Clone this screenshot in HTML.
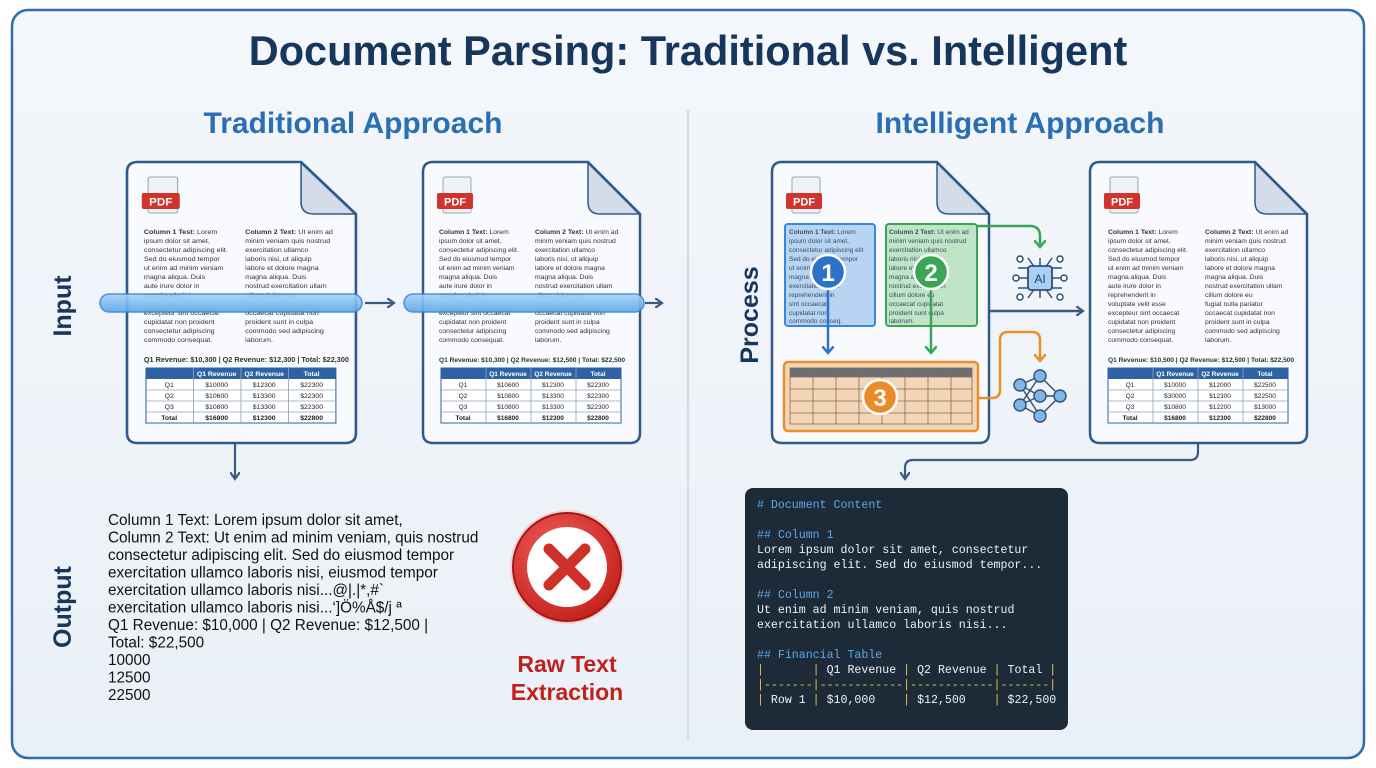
<!DOCTYPE html>
<html><head><meta charset="utf-8"><style>
html,body{margin:0;padding:0;background:#fff}
svg{display:block}
.t{font-family:"Liberation Sans",sans-serif}
.m{font-family:"Liberation Mono","DejaVu Sans Mono",monospace}
</style></head><body>
<svg width="1376" height="768" viewBox="0 0 1376 768" xmlns="http://www.w3.org/2000/svg">
<defs>
<linearGradient id="bg" x1="0" y1="0" x2="0" y2="1"><stop offset="0" stop-color="#f4f7fb"/><stop offset="1" stop-color="#eaf0f7"/></linearGradient>
<linearGradient id="bar" x1="0" y1="0" x2="0" y2="1"><stop offset="0" stop-color="#a9d3f7"/><stop offset="1" stop-color="#5aa6e8"/></linearGradient>
<radialGradient id="red" cx="0.4" cy="0.35" r="0.7"><stop offset="0" stop-color="#f0605a"/><stop offset="1" stop-color="#c4201c"/></radialGradient>
<marker id="ab" markerWidth="10" markerHeight="10" refX="6" refY="5" orient="auto" markerUnits="userSpaceOnUse"><path d="M0,0 L7,5 L0,10" fill="none" stroke="#3a5a80" stroke-width="2.2"/></marker>
<marker id="ablue" markerWidth="12" markerHeight="12" refX="6" refY="6" orient="auto" markerUnits="userSpaceOnUse"><path d="M0,0 L7,6 L0,12" fill="none" stroke="#2f72c8" stroke-width="2.5"/></marker>
<marker id="agreen" markerWidth="12" markerHeight="12" refX="6" refY="6" orient="auto" markerUnits="userSpaceOnUse"><path d="M0,0 L7,6 L0,12" fill="none" stroke="#3aa655" stroke-width="2.5"/></marker>
<marker id="aor" markerWidth="12" markerHeight="12" refX="6" refY="6" orient="auto" markerUnits="userSpaceOnUse"><path d="M0,0 L7,6 L0,12" fill="none" stroke="#e8902c" stroke-width="2.5"/></marker>
</defs>
<rect width="1376" height="768" fill="#fff"/>
<rect x="12" y="10" width="1352" height="748" rx="16" fill="url(#bg)" stroke="#2d6cb5" stroke-width="2.5"/>

<text class="t" x="688" y="65" text-anchor="middle" font-size="41.5" font-weight="bold" fill="#17365c">Document Parsing: Traditional vs. Intelligent</text>
<text class="t" x="353" y="133" text-anchor="middle" font-size="30" font-weight="bold" fill="#2a6fb3">Traditional Approach</text>
<text class="t" x="1020" y="133" text-anchor="middle" font-size="30" font-weight="bold" fill="#2a6fb3">Intelligent Approach</text>
<line x1="688" y1="110" x2="688" y2="740" stroke="#c9d4e0" stroke-width="1.5"/>

<text class="t" transform="translate(71,306) rotate(-90)" text-anchor="middle" font-size="25" font-weight="bold" fill="#17365c">Input</text>
<text class="t" transform="translate(71,607) rotate(-90)" text-anchor="middle" font-size="25" font-weight="bold" fill="#17365c">Output</text>
<text class="t" transform="translate(758,315) rotate(-90)" text-anchor="middle" font-size="25" font-weight="bold" fill="#17365c">Process</text>

<g transform="translate(127,162) scale(1.055,1)">
<path d="M10,0 H165 L217,52 V271 Q217,281 207,281 H10 Q0,281 0,271 V10 Q0,0 10,0 Z" fill="#f8fafd" stroke="#2f5a8a" stroke-width="2.5"/>
<path d="M165,1 V40 Q165,52 177,52 H216 Z" fill="#d3dce8" stroke="#2f5a8a" stroke-width="1.5"/>
<rect x="20" y="15" width="28" height="36" rx="2" fill="#eef1f5" stroke="#9aa6b5"/>
<rect x="14" y="31" width="36" height="16" rx="2" fill="#d0342c"/>
<text class="t" x="32" y="43.5" text-anchor="middle" font-size="11" font-weight="bold" fill="#fff">PDF</text>
<g class="t" font-size="6.8" fill="#333">
<text x="16" y="72"><tspan font-weight="bold">Column 1 Test:</tspan> Lorem</text><text x="16" y="81">ipsum dolor sit amet,</text><text x="16" y="90">consectetur adipiscing elit.</text><text x="16" y="99">Sed do eiusmod tempor</text><text x="16" y="108">ut enim ad minim veniam</text><text x="16" y="117">magna aliqua. Duis</text><text x="16" y="126">aute irure dolor in</text><text x="16" y="135">reprehenderit in</text><text x="16" y="153">excepteur sint occaecat</text><text x="16" y="162">cupidatat non proident</text><text x="16" y="171">consectetur adipiscing</text><text x="16" y="180">commodo consequat.</text>
<text x="112" y="72"><tspan font-weight="bold">Column 2 Text:</tspan> Ut enim ad</text><text x="112" y="81">minim veniam quis nostrud</text><text x="112" y="90">exercitation ullamco</text><text x="112" y="99">laboris nisi, ut aliquip</text><text x="112" y="108">labore et dolore magna</text><text x="112" y="117">magna aliqua. Duis</text><text x="112" y="126">nostrud exercitation ullam</text><text x="112" y="135">cillum dolore eu</text><text x="112" y="153">occaecat cupidatat non</text><text x="112" y="162">proident sunt in culpa</text><text x="112" y="171">commodo sed adipiscing</text><text x="112" y="180">laborum.</text>
<text x="16" y="200" font-weight="bold" font-size="6.9">Q1 Revenue: $10,300 | Q2 Revenue: $12,300 | Total: $22,300</text>
</g>
<rect x="18" y="206" width="180" height="55" fill="#fff" stroke="#2d63a5"/>
<rect x="18" y="206" width="180" height="11" fill="#2d63a5"/>
<g stroke="#8aa2c2" stroke-width="0.8"><line x1="18" y1="228" x2="198" y2="228"/><line x1="18" y1="239" x2="198" y2="239"/><line x1="18" y1="250" x2="198" y2="250"/><line x1="63" y1="206" x2="63" y2="261"/><line x1="108" y1="206" x2="108" y2="261"/><line x1="153" y1="206" x2="153" y2="261"/></g>
<g class="t" font-size="6.5" fill="#222" text-anchor="middle">
<text x="85" y="214" fill="#fff" font-weight="bold">Q1 Revenue</text><text x="130" y="214" fill="#fff" font-weight="bold">Q2 Revenue</text><text x="175" y="214" fill="#fff" font-weight="bold">Total</text>
<text x="40" y="225">Q1</text><text x="85" y="225">$10000</text><text x="130" y="225">$12300</text><text x="175" y="225">$22300</text>
<text x="40" y="236">Q2</text><text x="85" y="236">$10600</text><text x="130" y="236">$13300</text><text x="175" y="236">$22300</text>
<text x="40" y="247">Q3</text><text x="85" y="247">$10800</text><text x="130" y="247">$13300</text><text x="175" y="247">$22300</text>
<text x="40" y="258" font-weight="bold">Total</text><text x="85" y="258" font-weight="bold">$16800</text><text x="130" y="258" font-weight="bold">$12300</text><text x="175" y="258" font-weight="bold">$22800</text>
</g>
</g>

<g transform="translate(423,162)">
<path d="M10,0 H165 L217,52 V271 Q217,281 207,281 H10 Q0,281 0,271 V10 Q0,0 10,0 Z" fill="#f8fafd" stroke="#2f5a8a" stroke-width="2.5"/>
<path d="M165,1 V40 Q165,52 177,52 H216 Z" fill="#d3dce8" stroke="#2f5a8a" stroke-width="1.5"/>
<rect x="20" y="15" width="28" height="36" rx="2" fill="#eef1f5" stroke="#9aa6b5"/>
<rect x="14" y="31" width="36" height="16" rx="2" fill="#d0342c"/>
<text class="t" x="32" y="43.5" text-anchor="middle" font-size="11" font-weight="bold" fill="#fff">PDF</text>
<g class="t" font-size="6.8" fill="#333">
<text x="16" y="72"><tspan font-weight="bold">Column 1 Text:</tspan> Lorem</text><text x="16" y="81">ipsum dolor sit amet,</text><text x="16" y="90">consectetur adipiscing elit.</text><text x="16" y="99">Sed do eiusmod tempor</text><text x="16" y="108">ut enim ad minim veniam</text><text x="16" y="117">magna aliqua. Duis</text><text x="16" y="126">aute irure dolor in</text><text x="16" y="135">reprehenderit in</text><text x="16" y="153">excepteur sint occaecat</text><text x="16" y="162">cupidatat non proident</text><text x="16" y="171">consectetur adipiscing</text><text x="16" y="180">commodo consequat.</text>
<text x="112" y="72"><tspan font-weight="bold">Column 2 Text:</tspan> Ut enim ad</text><text x="112" y="81">minim veniam quis nostrud</text><text x="112" y="90">exercitation ullamco</text><text x="112" y="99">laboris nisi, ut aliquip</text><text x="112" y="108">labore et dolore magna</text><text x="112" y="117">magna aliqua. Duis</text><text x="112" y="126">nostrud exercitation ullam</text><text x="112" y="135">cillum dolore eu</text><text x="112" y="153">occaecat cupidatat non</text><text x="112" y="162">proident sunt in culpa</text><text x="112" y="171">commodo sed adipiscing</text><text x="112" y="180">laborum.</text>
<text x="16" y="200" font-weight="bold" font-size="6.6">Q1 Revenue: $10,300 | Q2 Revenue: $12,500 | Total: $22,500</text>
</g>
<rect x="18" y="206" width="180" height="55" fill="#fff" stroke="#2d63a5"/>
<rect x="18" y="206" width="180" height="11" fill="#2d63a5"/>
<g stroke="#8aa2c2" stroke-width="0.8"><line x1="18" y1="228" x2="198" y2="228"/><line x1="18" y1="239" x2="198" y2="239"/><line x1="18" y1="250" x2="198" y2="250"/><line x1="63" y1="206" x2="63" y2="261"/><line x1="108" y1="206" x2="108" y2="261"/><line x1="153" y1="206" x2="153" y2="261"/></g>
<g class="t" font-size="6.5" fill="#222" text-anchor="middle">
<text x="85" y="214" fill="#fff" font-weight="bold">Q1 Revenue</text><text x="130" y="214" fill="#fff" font-weight="bold">Q2 Revenue</text><text x="175" y="214" fill="#fff" font-weight="bold">Total</text>
<text x="40" y="225">Q1</text><text x="85" y="225">$10600</text><text x="130" y="225">$12300</text><text x="175" y="225">$22300</text>
<text x="40" y="236">Q2</text><text x="85" y="236">$10800</text><text x="130" y="236">$13300</text><text x="175" y="236">$22300</text>
<text x="40" y="247">Q3</text><text x="85" y="247">$10800</text><text x="130" y="247">$13300</text><text x="175" y="247">$22300</text>
<text x="40" y="258" font-weight="bold">Total</text><text x="85" y="258" font-weight="bold">$16800</text><text x="130" y="258" font-weight="bold">$12300</text><text x="175" y="258" font-weight="bold">$22800</text>
</g>
</g>

<g transform="translate(1090,162)">
<path d="M10,0 H165 L217,52 V271 Q217,281 207,281 H10 Q0,281 0,271 V10 Q0,0 10,0 Z" fill="#f8fafd" stroke="#2f5a8a" stroke-width="2.5"/>
<path d="M165,1 V40 Q165,52 177,52 H216 Z" fill="#d3dce8" stroke="#2f5a8a" stroke-width="1.5"/>
<rect x="20" y="15" width="28" height="36" rx="2" fill="#eef1f5" stroke="#9aa6b5"/>
<rect x="14" y="31" width="36" height="16" rx="2" fill="#d0342c"/>
<text class="t" x="32" y="43.5" text-anchor="middle" font-size="11" font-weight="bold" fill="#fff">PDF</text>
<g class="t" font-size="6.8" fill="#333">
<text x="18" y="72"><tspan font-weight="bold">Column 1 Text:</tspan> Lorem</text><text x="18" y="81">ipsum dolor sit amet,</text><text x="18" y="90">consectetur adipiscing elit.</text><text x="18" y="99">Sed do eiusmod tempor</text><text x="18" y="108">ut enim ad minim veniam</text><text x="18" y="117">magna aliqua. Duis</text><text x="18" y="126">aute irure dolor in</text><text x="18" y="135">reprehenderit in</text><text x="18" y="144">voluptate velit esse</text><text x="18" y="153">excepteur sint occaecat</text><text x="18" y="162">cupidatat non proident</text><text x="18" y="171">consectetur adipiscing</text><text x="18" y="180">commodo consequat.</text>
<text x="115" y="72"><tspan font-weight="bold">Column 2 Text:</tspan> Ut enim ad</text><text x="115" y="81">minim veniam quis nostrud</text><text x="115" y="90">exercitation ullamco</text><text x="115" y="99">laboris nisi, ut aliquip</text><text x="115" y="108">labore et dolore magna</text><text x="115" y="117">magna aliqua. Duis</text><text x="115" y="126">nostrud exercitation ullam</text><text x="115" y="135">cillum dolore eu</text><text x="115" y="144">fugiat nulla pariatur</text><text x="115" y="153">occaecat cupidatat non</text><text x="115" y="162">proident sunt in culpa</text><text x="115" y="171">commodo sed adipiscing</text><text x="115" y="180">laborum.</text>
<text x="18" y="200" font-weight="bold" font-size="6.6">Q1 Revenue: $10,500 | Q2 Revenue: $12,500 | Total: $22,500</text>
</g>
<rect x="18" y="206" width="180" height="55" fill="#fff" stroke="#2d63a5"/>
<rect x="18" y="206" width="180" height="11" fill="#2d63a5"/>
<g stroke="#8aa2c2" stroke-width="0.8"><line x1="18" y1="228" x2="198" y2="228"/><line x1="18" y1="239" x2="198" y2="239"/><line x1="18" y1="250" x2="198" y2="250"/><line x1="63" y1="206" x2="63" y2="261"/><line x1="108" y1="206" x2="108" y2="261"/><line x1="153" y1="206" x2="153" y2="261"/></g>
<g class="t" font-size="6.5" fill="#222" text-anchor="middle">
<text x="85" y="214" fill="#fff" font-weight="bold">Q1 Revenue</text><text x="130" y="214" fill="#fff" font-weight="bold">Q2 Revenue</text><text x="175" y="214" fill="#fff" font-weight="bold">Total</text>
<text x="40" y="225">Q1</text><text x="85" y="225">$10000</text><text x="130" y="225">$12000</text><text x="175" y="225">$22500</text>
<text x="40" y="236">Q2</text><text x="85" y="236">$30000</text><text x="130" y="236">$12300</text><text x="175" y="236">$22500</text>
<text x="40" y="247">Q3</text><text x="85" y="247">$10800</text><text x="130" y="247">$12200</text><text x="175" y="247">$13000</text>
<text x="40" y="258" font-weight="bold">Total</text><text x="85" y="258" font-weight="bold">$16800</text><text x="130" y="258" font-weight="bold">$12300</text><text x="175" y="258" font-weight="bold">$22800</text>
</g>
</g>

<g transform="translate(772,162)">
<path d="M10,0 H165 L217,52 V271 Q217,281 207,281 H10 Q0,281 0,271 V10 Q0,0 10,0 Z" fill="#f8fafd" stroke="#2f5a8a" stroke-width="2.5"/>
<path d="M165,1 V40 Q165,52 177,52 H216 Z" fill="#d3dce8" stroke="#2f5a8a" stroke-width="1.5"/>
<rect x="20" y="15" width="28" height="36" rx="2" fill="#eef1f5" stroke="#9aa6b5"/>
<rect x="14" y="31" width="36" height="16" rx="2" fill="#d0342c"/>
<text class="t" x="32" y="43.5" text-anchor="middle" font-size="11" font-weight="bold" fill="#fff">PDF</text>
</g>
<rect x="785" y="224" width="90" height="102" rx="3" fill="#b7d4f3" stroke="#3a86d8" stroke-width="2"/>
<rect x="886" y="224" width="91" height="102" rx="3" fill="#bfe4c6" stroke="#3aa655" stroke-width="2"/>
<g class="t" font-size="6.5" fill="#3a4c66">
<text x="789" y="234"><tspan font-weight="bold">Column 1 Text:</tspan> Lorem</text><text x="789" y="243">ipsum dolor sit amet,</text><text x="789" y="252">consectetur adipiscing elit</text><text x="789" y="261">Sed do eiusmod tempor</text><text x="789" y="270">ut enim ad minim</text><text x="789" y="279">magna aliqua dolor</text><text x="789" y="288">exercitation ullam</text><text x="789" y="297">reprehenderit in</text><text x="789" y="306">sint occaecat</text><text x="789" y="315">cupidatat non</text><text x="789" y="323">commodo conseq.</text>
<text x="889" y="234"><tspan font-weight="bold">Column 2 Text:</tspan> Ut enim ad</text><text x="889" y="243">minim veniam quis nostrud</text><text x="889" y="252">exercitation ullamco</text><text x="889" y="261">laboris nisi aliquip</text><text x="889" y="270">labore et dolore</text><text x="889" y="279">magna aliqua dolor</text><text x="889" y="288">nostrud exercitation</text><text x="889" y="297">cillum dolore eu</text><text x="889" y="306">occaecat cupidatat</text><text x="889" y="315">proident sunt culpa</text><text x="889" y="323">laborum.</text>
</g>
<line x1="828" y1="288" x2="828" y2="352" stroke="#2f72c8" stroke-width="2.5" marker-end="url(#ablue)"/>
<line x1="931" y1="288" x2="931" y2="352" stroke="#3aa655" stroke-width="2.5" marker-end="url(#agreen)"/>
<circle cx="828" cy="272" r="17" fill="#2b72c8" stroke="#fff" stroke-width="2.5"/>
<text class="t" x="828" y="281" text-anchor="middle" font-size="24" font-weight="bold" fill="#fff">1</text>
<circle cx="931" cy="272" r="17" fill="#3aa655" stroke="#fff" stroke-width="2.5"/>
<text class="t" x="931" y="281" text-anchor="middle" font-size="24" font-weight="bold" fill="#fff">2</text>
<rect x="784" y="362" width="194" height="69" rx="4" fill="#f3d6b8" stroke="#e8902c" stroke-width="2.5"/>
<rect x="790" y="368" width="182" height="9" fill="#6b6f74"/>
<g stroke="#8a6a50" stroke-width="0.8" fill="none">
<rect x="790" y="368" width="182" height="56"/>
<line x1="790" y1="377" x2="972" y2="377"/><line x1="790" y1="389" x2="972" y2="389"/><line x1="790" y1="401" x2="972" y2="401"/><line x1="790" y1="413" x2="972" y2="413"/>
<line x1="813" y1="368" x2="813" y2="424"/><line x1="836" y1="368" x2="836" y2="424"/><line x1="859" y1="368" x2="859" y2="424"/><line x1="882" y1="368" x2="882" y2="424"/><line x1="905" y1="368" x2="905" y2="424"/><line x1="928" y1="368" x2="928" y2="424"/><line x1="951" y1="368" x2="951" y2="424"/>
</g>
<circle cx="880" cy="397" r="17" fill="#ea8a2a" stroke="#fff" stroke-width="2.5"/>
<text class="t" x="880" y="406" text-anchor="middle" font-size="24" font-weight="bold" fill="#fff">3</text>

<path d="M977,226 H1030 Q1040,226 1040,236 V246" fill="none" stroke="#3aa655" stroke-width="2.5" marker-end="url(#agreen)"/>
<path d="M978,398 H992 Q1000,398 1000,390 V340 Q1000,332 1008,332 H1032 Q1040,332 1040,340 V360" fill="none" stroke="#e8902c" stroke-width="2.5" marker-end="url(#aor)"/>
<line x1="990" y1="311" x2="1082" y2="311" stroke="#3a5a80" stroke-width="2.5" marker-end="url(#ab)"/>
<g stroke="#2f4f78" stroke-width="1.5" fill="none">
<path d="M1030,268 H1018 M1030,288 H1018 M1050,268 H1062 M1050,288 H1062 M1035,268 L1028,258 M1045,268 L1052,258 M1035,288 L1028,298 M1045,288 L1052,298 M1040,266 V258 M1040,290 V298"/>
<circle cx="1020" cy="259" r="3" fill="#fff"/><circle cx="1060" cy="259" r="3" fill="#fff"/><circle cx="1020" cy="297" r="3" fill="#fff"/><circle cx="1060" cy="297" r="3" fill="#fff"/><circle cx="1016" cy="278" r="3" fill="#fff"/><circle cx="1064" cy="278" r="3" fill="#fff"/>
<path d="M1030,278 H1019 M1050,278 H1061"/>
</g>
<rect x="1028" y="266" width="24" height="24" rx="3" fill="#a8d0f2" stroke="#2f4f78" stroke-width="1.8"/>
<text class="t" x="1040" y="283" text-anchor="middle" font-size="12" fill="#1d3d66">AI</text>
<g stroke="#2f4f78" stroke-width="1.4">
<line x1="1020" y1="385" x2="1040" y2="376"/><line x1="1020" y1="385" x2="1040" y2="396"/><line x1="1020" y1="385" x2="1040" y2="416"/><line x1="1020" y1="405" x2="1040" y2="376"/><line x1="1020" y1="405" x2="1040" y2="396"/><line x1="1020" y1="405" x2="1040" y2="416"/><line x1="1040" y1="376" x2="1060" y2="396"/><line x1="1040" y1="396" x2="1060" y2="396"/><line x1="1040" y1="416" x2="1060" y2="396"/>
</g>
<g fill="#7fb6e6" stroke="#2f4f78" stroke-width="1.4">
<circle cx="1020" cy="385" r="6"/><circle cx="1020" cy="405" r="6"/><circle cx="1040" cy="376" r="6"/><circle cx="1040" cy="396" r="6"/><circle cx="1040" cy="416" r="6"/><circle cx="1060" cy="396" r="6"/>
</g>

<rect x="100" y="294" width="262" height="18" rx="9" fill="url(#bar)" stroke="#3a86d8" stroke-width="1.5" opacity="0.9"/>
<line x1="365" y1="303" x2="393" y2="303" stroke="#3a5a80" stroke-width="2.2" marker-end="url(#ab)"/>
<rect x="404" y="294" width="240" height="18" rx="9" fill="url(#bar)" stroke="#3a86d8" stroke-width="1.5" opacity="0.9"/>
<line x1="645" y1="303" x2="661" y2="303" stroke="#3a5a80" stroke-width="2.2" marker-end="url(#ab)"/>
<line x1="235" y1="444" x2="235" y2="478" stroke="#3a5a80" stroke-width="2.2" marker-end="url(#ab)"/>

<path d="M1198,444 V452 Q1198,460 1190,460 H913 Q905,460 905,468 V478" fill="none" stroke="#3a5a80" stroke-width="2.2" marker-end="url(#ab)"/>

<g class="t" font-size="15.3" fill="#111">
<text x="108" y="525">Column 1 Text: Lorem ipsum dolor sit amet,</text>
<text x="108" y="542.5">Column 2 Text: Ut enim ad minim veniam, quis nostrud</text>
<text x="108" y="560">consectetur adipiscing elit. Sed do eiusmod tempor</text>
<text x="108" y="577.5">exercitation ullamco laboris nisi, eiusmod tempor</text>
<text x="108" y="595">exercitation ullamco laboris nisi...@|.|*,#`</text>
<text x="108" y="612.5">exercitation ullamco laboris nisi...‘]Ö%Å$/j ª</text>
<text x="108" y="630">Q1 Revenue: $10,000 | Q2 Revenue: $12,500 |</text>
<text x="108" y="647.5">Total: $22,500</text>
<text x="108" y="665">10000</text>
<text x="108" y="682.5">12500</text>
<text x="108" y="700">22500</text>
</g>

<circle cx="567" cy="567" r="57" fill="#f3d3d3"/>
<circle cx="567" cy="567" r="54" fill="url(#red)" stroke="#a51814" stroke-width="2"/>
<circle cx="567" cy="567" r="40" fill="#fff"/>
<g stroke="#d0302a" stroke-width="11" stroke-linecap="round"><line x1="549" y1="549" x2="585" y2="585"/><line x1="585" y1="549" x2="549" y2="585"/></g>
<text class="t" x="567" y="672" text-anchor="middle" font-size="23" font-weight="bold" fill="#c0211d">Raw Text</text>
<text class="t" x="567" y="700" text-anchor="middle" font-size="23" font-weight="bold" fill="#c0211d">Extraction</text>

<rect x="745" y="488" width="323" height="242" rx="8" fill="#1d2a38"/>
<g class="m" font-size="11.6">
<text x="757" y="508" fill="#5fa8e6"># Document Content</text>
<text x="757" y="538" fill="#5fa8e6">## Column 1</text>
<text x="757" y="553" fill="#eef2f6">Lorem ipsum dolor sit amet, consectetur</text>
<text x="757" y="568" fill="#eef2f6">adipiscing elit. Sed do eiusmod tempor...</text>
<text x="757" y="598" fill="#5fa8e6">## Column 2</text>
<text x="757" y="613" fill="#eef2f6">Ut enim ad minim veniam, quis nostrud</text>
<text x="757" y="628" fill="#eef2f6">exercitation ullamco laboris nisi...</text>
<text x="757" y="658" fill="#5fa8e6">## Financial Table</text>
<text x="757" y="673" fill="#eef2f6" xml:space="preserve"><tspan fill="#e6c24a">|</tspan>       <tspan fill="#e6c24a">|</tspan> Q1 Revenue <tspan fill="#e6c24a">|</tspan> Q2 Revenue <tspan fill="#e6c24a">|</tspan> Total <tspan fill="#e6c24a">|</tspan></text>
<text x="757" y="688" fill="#e6c24a">|-------|------------|------------|-------|</text>
<text x="757" y="703" fill="#eef2f6" xml:space="preserve"><tspan fill="#e6c24a">|</tspan> Row 1 <tspan fill="#e6c24a">|</tspan> $10,000    <tspan fill="#e6c24a">|</tspan> $12,500    <tspan fill="#e6c24a">|</tspan> $22,500</text>
<text x="757" y="716" fill="#eef2f6">
